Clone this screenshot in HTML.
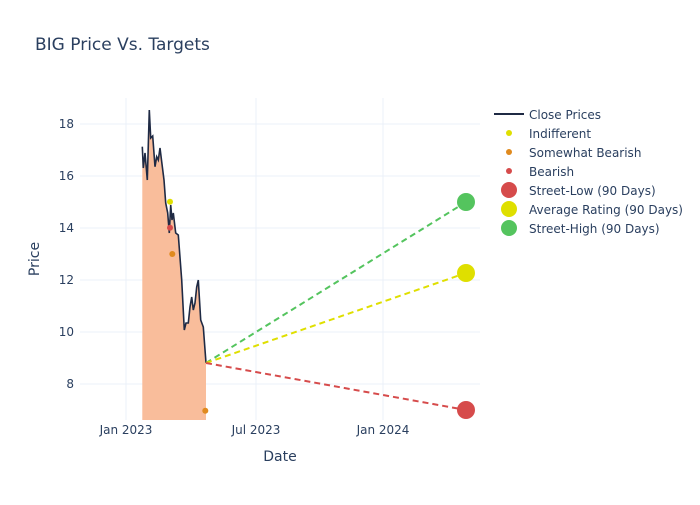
<!DOCTYPE html>
<html><head><style>body{margin:0;background:#fff}</style></head><body>
<svg width="700" height="500" xmlns="http://www.w3.org/2000/svg" font-family="DejaVu Sans, sans-serif">
<rect width="700" height="500" fill="#fff"/>
<g stroke="#ebf0f8" stroke-width="1">
<line x1="80" x2="480" y1="124" y2="124"/><line x1="80" x2="480" y1="176" y2="176"/><line x1="80" x2="480" y1="228" y2="228"/><line x1="80" x2="480" y1="280" y2="280"/><line x1="80" x2="480" y1="332" y2="332"/><line x1="80" x2="480" y1="384" y2="384"/>
<line x1="126" x2="126" y1="98" y2="420"/><line x1="256" x2="256" y1="98" y2="420"/><line x1="383" x2="383" y1="98" y2="420"/>
</g>
<path d="M142.3,146.7 L143.3,168 L145,153 L147.3,180 L149.3,110 L150.7,138 L152.7,136 L155,166.7 L156.7,156.7 L158.3,160 L160,148 L161.7,161.7 L164,180 L165.7,203 L167.7,213 L169.3,233 L170.7,205 L172,220 L173.3,213 L175.7,233 L178.3,235 L181.7,280 L184.3,330 L186,323 L188.3,323 L190,307 L191.7,297 L193.3,310 L195,303 L196.7,287 L198.3,280 L200.7,320 L203.3,327 L206,363 L206,420 L142.3,420 Z" fill="#f9bd9b"/>
<path d="M142.3,146.7 L143.3,168 L145,153 L147.3,180 L149.3,110 L150.7,138 L152.7,136 L155,166.7 L156.7,156.7 L158.3,160 L160,148 L161.7,161.7 L164,180 L165.7,203 L167.7,213 L169.3,233 L170.7,205 L172,220 L173.3,213 L175.7,233 L178.3,235 L181.7,280 L184.3,330 L186,323 L188.3,323 L190,307 L191.7,297 L193.3,310 L195,303 L196.7,287 L198.3,280 L200.7,320 L203.3,327 L206,363" fill="none" stroke="#1f2a44" stroke-width="1.6"/>
<g stroke-width="2" stroke-dasharray="6,4" fill="none">
<line x1="206" y1="363" x2="466" y2="202" stroke="#54c45e"/>
<line x1="206" y1="363" x2="466" y2="273" stroke="#dfdf00"/>
<line x1="206" y1="363" x2="466" y2="410" stroke="#d64b4b"/>
</g>
<circle cx="170" cy="201.7" r="3" fill="#dfdf00"/>
<circle cx="170" cy="227.7" r="3" fill="#d64b4b"/>
<circle cx="172.3" cy="254" r="3" fill="#e08a1e"/>
<circle cx="205.3" cy="410.7" r="3" fill="#e08a1e"/>
<circle cx="466" cy="410" r="9" fill="#d64b4b"/>
<circle cx="466" cy="273" r="9" fill="#dfdf00"/>
<circle cx="466" cy="202" r="9" fill="#54c45e"/>
<g fill="#2a3f5f" font-size="12" text-anchor="end">
<text x="74" y="128">18</text><text x="74" y="180">16</text><text x="74" y="232">14</text><text x="74" y="284">12</text><text x="74" y="336">10</text><text x="74" y="388">8</text>
</g>
<g fill="#2a3f5f" font-size="12" text-anchor="middle">
<text x="126" y="434">Jan 2023</text><text x="256" y="434">Jul 2023</text><text x="383" y="434">Jan 2024</text>
<text x="280" y="461" font-size="14">Date</text>
<text transform="translate(39,259) rotate(-90)" font-size="14">Price</text>
</g>
<text x="35" y="50" font-size="17" fill="#2a3f5f">BIG Price Vs. Targets</text>
<g font-size="12" fill="#2a3f5f">
<line x1="494" x2="524" y1="114" y2="114" stroke="#1f2a44" stroke-width="2"/><text x="529" y="119">Close Prices</text>
<circle cx="509" cy="133" r="3" fill="#dfdf00"/><text x="529" y="138">Indifferent</text>
<circle cx="509" cy="152" r="3" fill="#e08a1e"/><text x="529" y="157">Somewhat Bearish</text>
<circle cx="509" cy="171" r="3" fill="#d64b4b"/><text x="529" y="176">Bearish</text>
<circle cx="509" cy="190" r="8" fill="#d64b4b"/><text x="529" y="195">Street-Low (90 Days)</text>
<circle cx="509" cy="209" r="8" fill="#dfdf00"/><text x="529" y="214">Average Rating (90 Days)</text>
<circle cx="509" cy="228" r="8" fill="#54c45e"/><text x="529" y="233">Street-High (90 Days)</text>
</g>
</svg>
</body></html>
